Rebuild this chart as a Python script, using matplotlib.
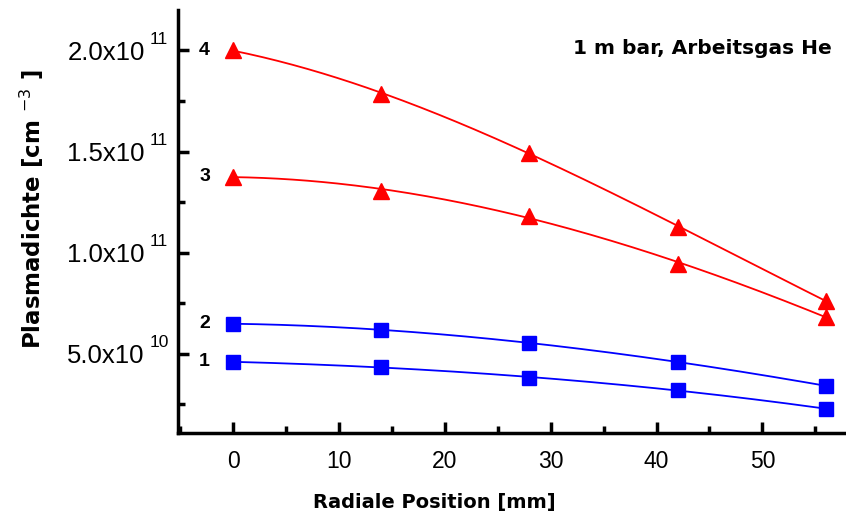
import numpy as np
import matplotlib
matplotlib.use("Agg")
import matplotlib.pyplot as plt
import matplotlib.transforms as mtransforms
from matplotlib.ticker import MultipleLocator, FixedLocator, FixedFormatter

# Daten
pos = [0, 14, 28, 42, 56]
kurve1 = [4.6e10, 4.36e10, 3.81e10, 3.22e10, 2.28e10]
kurve2 = [6.49e10, 6.19e10, 5.54e10, 4.60e10, 3.42e10]
kurve3 = [1.376e11, 1.307e11, 1.183e11, 0.946e11, 6.83e10]
kurve4 = [2.00e11, 1.787e11, 1.495e11, 1.129e11, 7.62e10]
namen = ["1", "2", "3", "4"]
ytick_werte = [5e10, 1e11, 1.5e11, 2e11]
ytick_text = ["5.0x10", "1.0x10", "1.5x10", "2.0x10"]
ytick_exp = ["10", "11", "11", "11"]

plt.rcParams['font.family'] = ['Liberation Sans', 'DejaVu Sans']
fett = ["DejaVu Sans"]

fig = plt.figure(figsize=(8.46, 5.16), dpi=100)
ax = fig.add_axes([0.2104, 0.1609, 0.7884, 0.8197])

kurven = [kurve1, kurve2, kurve3, kurve4]
farben = ["#0000ff", "#0000ff", "#ff0000", "#ff0000"]
marker = ["s", "s", "^", "^"]
msize = [10, 10, 12, 12]
xs = np.linspace(pos[0], pos[-1], 200)
for i, k in enumerate(kurven):
    fit = np.polyfit(pos, k, 3)
    ax.plot(xs, np.polyval(fit, xs), color=farben[i], lw=1.3)
    ax.plot(pos, k, ls="none", marker=marker[i], color=farben[i], ms=msize[i])
    ax.text(-2.7, k[0], namen[i], fontsize=14, fontweight="bold",
            family=["Liberation Sans"], ha="center", va="center")

ax.text(0.9805, 0.91, "1 m bar, Arbeitsgas He", transform=ax.transAxes,
        ha="right", va="center", fontsize=14.5, fontweight="bold", family=fett)

ax.set_xlim(-5.2, 57.8)
ax.set_ylim(1.09e10, 2.2e11)
ax.xaxis.set_major_locator(MultipleLocator(10))
ax.xaxis.set_minor_locator(MultipleLocator(5))
ax.yaxis.set_major_locator(FixedLocator(ytick_werte))
ax.yaxis.set_major_formatter(FixedFormatter(ytick_text))
ax.yaxis.set_minor_locator(MultipleLocator(2.5e10))

for s in ["top", "right"]:
    ax.spines[s].set_visible(False)
for s in ["left", "bottom"]:
    ax.spines[s].set_linewidth(2.5)
ax.tick_params(which="major", direction="in", length=8, width=2.5)
ax.tick_params(which="minor", direction="in", length=5, width=2.5)
ax.tick_params(axis="x", labelsize=16.5, pad=12)
ax.tick_params(axis="y", labelsize=18.5, pad=24)

# Exponenten der y-Beschriftung
trans = mtransforms.blended_transform_factory(ax.transAxes, ax.transData)
trans = mtransforms.offset_copy(trans, fig=fig, x=0, y=11, units="dots")
for w, e in zip(ytick_werte, ytick_exp):
    ax.text(-0.042, w, e, transform=trans, fontsize=12.5, ha="left", va="center")

ax.set_xlabel("Radiale Position [mm]", fontsize=14, fontweight="bold", family=fett)
ax.xaxis.set_label_coords(0.385, -0.142)
ax.set_ylabel("Plasmadichte [cm $^{-3}$ ]", fontsize=16.5, fontweight="bold", family=fett)
ax.yaxis.set_label_coords(-0.198, 0.53)

fig.savefig("out.png", dpi=100)
